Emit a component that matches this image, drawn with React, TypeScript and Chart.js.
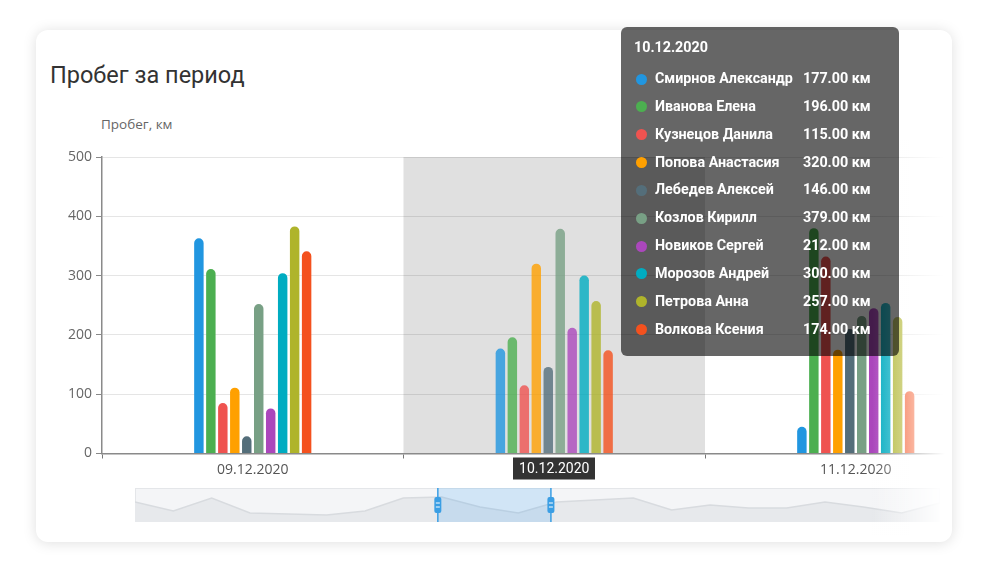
import React, { useEffect, useRef } from "react";
import { Chart, registerables } from "chart.js";

Chart.register(...registerables);

// ---------- data ----------
const categories = ["09.12.2020", "10.12.2020", "11.12.2020"];
const seriesNames = [
  "Смирнов Александр",
  "Иванова Елена",
  "Кузнецов Данила",
  "Попова Анастасия",
  "Лебедев Алексей",
  "Козлов Кирилл",
  "Новиков Сергей",
  "Морозов Андрей",
  "Петрова Анна",
  "Волкова Ксения",
];
const seriesColors = [
  "#2196e0",
  "#4caf50",
  "#ef5350",
  "#ffa000",
  "#546e7a",
  "#78a085",
  "#ab47bc",
  "#00acc1",
  "#afb42b",
  "#f4511e",
];
const smirnov = [363, 177, 45];
const ivanova = [311, 196, 380];
const kuznetsov = [85, 115, 332];
const popova = [111, 320, 175];
const lebedev = [29, 146, 210];
const kozlov = [252, 379, 232];
const novikov = [76, 212, 245];
const morozov = [304, 300, 254];
const petrova = [383, 257, 230];
const volkova = [341, 174, 105];
const seriesValues = [smirnov, ivanova, kuznetsov, popova, lebedev, kozlov, novikov, morozov, petrova, volkova];
const yTicks = [0, 100, 200, 300, 400, 500];
const highlightedCategory = 1;
const unit = "км";
const chartTitle = "Пробег за период";
const axisTitle = "Пробег, км";
const previewValues = [20, 11, 24, 9, 8, 7, 11, 24, 25, 15, 9, 20, 22, 24, 12, 17, 14, 14, 20, 15, 9, 19];
const previewMax = 34;
const previewSelection = [7.9, 10.85];

// ---------- helpers ----------
function withAlpha(hex: string, a: number) {
  const h = hex.replace("#", "");
  const r = parseInt(h.slice(0, 2), 16);
  const g = parseInt(h.slice(2, 4), 16);
  const b = parseInt(h.slice(4, 6), 16);
  return `rgba(${r},${g},${b},${a})`;
}

const TICK_FONT = "'Open Sans', sans-serif";

const highlightPlugin = {
  id: "catHighlight",
  beforeDraw(chart: any) {
    const x = chart.scales.x;
    const { top, bottom } = chart.chartArea;
    const w = x.width / categories.length;
    const c = x.getPixelForValue(highlightedCategory);
    const ctx = chart.ctx;
    ctx.save();
    ctx.fillStyle = "#e0e0e0";
    ctx.fillRect(c - w / 2, top, w, bottom - top);
    ctx.restore();
  },
  afterDraw(chart: any) {
    const x = chart.scales.x;
    const c = x.getPixelForValue(highlightedCategory);
    const ctx = chart.ctx;
    const label = categories[highlightedCategory];
    ctx.save();
    ctx.font = `14px Roboto`;
    const tw = ctx.measureText(label).width;
    const bw = tw + 12;
    const top = chart.chartArea.bottom + 4;
    ctx.fillStyle = "#333333";
    ctx.fillRect(Math.round(c - bw / 2), top, Math.round(bw), 22);
    ctx.fillStyle = "#ffffff";
    ctx.textAlign = "center";
    ctx.textBaseline = "middle";
    ctx.fillText(label, c, top + 11.5);
    ctx.restore();
  },
};

const previewPlugin = {
  id: "previewDecor",
  beforeDraw(chart: any) {
    const ctx = chart.ctx;
    ctx.save();
    ctx.fillStyle = "#f4f5f7";
    ctx.fillRect(0, 0, chart.width, chart.height);
    ctx.strokeStyle = "#e4e6e9";
    ctx.lineWidth = 1;
    ctx.strokeRect(0.5, 0.5, chart.width - 1, chart.height - 1);
    ctx.restore();
  },
  afterDatasetsDraw(chart: any) {
    const ctx = chart.ctx;
    const xs = chart.scales.x;
    const x1 = xs.getPixelForValue(previewSelection[0]);
    const x2 = xs.getPixelForValue(previewSelection[1]);
    const h = chart.height;
    const mid = h / 2;
    ctx.save();
    ctx.fillStyle = "rgba(33,150,243,0.16)";
    ctx.fillRect(x1, 0, x2 - x1, h);
    ctx.strokeStyle = "#3a9ee4";
    ctx.lineWidth = 1.5;
    [x1, x2].forEach((x) => {
      ctx.beginPath();
      ctx.moveTo(x, 0);
      ctx.lineTo(x, h);
      ctx.stroke();
      ctx.fillStyle = "#3a9ee4";
      ctx.beginPath();
      (ctx as any).roundRect(x - 3.5, mid - 8, 7, 16, 2);
      ctx.fill();
      ctx.strokeStyle = "#ffffff";
      ctx.lineWidth = 1;
      ctx.beginPath();
      ctx.moveTo(x - 2, mid - 2);
      ctx.lineTo(x + 2, mid - 2);
      ctx.moveTo(x - 2, mid + 2);
      ctx.lineTo(x + 2, mid + 2);
      ctx.stroke();
      ctx.strokeStyle = "#3a9ee4";
      ctx.lineWidth = 1.5;
    });
    ctx.restore();
  },
};

export default function App() {
  const mainRef = useRef<HTMLCanvasElement | null>(null);
  const previewRef = useRef<HTMLCanvasElement | null>(null);
  const tipRef = useRef<HTMLDivElement | null>(null);

  useEffect(() => {
    if (!mainRef.current || !previewRef.current) return;

    const main = new Chart(mainRef.current, {
      type: "bar",
      data: {
        labels: categories,
        datasets: seriesValues.map((vals, i) => ({
          label: seriesNames[i],
          data: vals,
          backgroundColor: (ctx: any) =>
            ctx.dataIndex === highlightedCategory ? withAlpha(seriesColors[i], 0.8) : seriesColors[i],
          hoverBackgroundColor: (ctx: any) =>
            ctx.dataIndex === highlightedCategory ? withAlpha(seriesColors[i], 0.8) : seriesColors[i],
          borderWidth: 0,
          borderRadius: 5,
          borderSkipped: "bottom",
          categoryPercentage: 0.397,
          barPercentage: 0.79,
        })),
      },
      options: {
        animation: false,
        responsive: false,
        events: [],
        layout: { padding: { left: 0, top: 157, right: 13.5, bottom: 0 } },
        plugins: {
          legend: { display: false },
          title: { display: false },
          tooltip: {
            enabled: false,
            mode: "index",
            intersect: false,
            external: ({ tooltip }: any) => {
              const el = tipRef.current;
              if (!el) return;
              if (!tooltip.opacity || !tooltip.dataPoints || !tooltip.dataPoints.length) {
                el.style.display = "none";
                return;
              }
              el.style.display = "block";
              const title = (tooltip.title && tooltip.title[0]) || "";
              let html = `<div style="height:16px;line-height:16px;margin-bottom:10px">${title}</div>`;
              tooltip.dataPoints.forEach((dp: any) => {
                const color = seriesColors[dp.datasetIndex];
                const v = Number(dp.raw).toFixed(2) + " " + unit;
                html +=
                  `<div style="position:relative;height:27.85px;line-height:27.85px;white-space:nowrap">` +
                  `<span style="position:absolute;left:2px;top:8.5px;width:11px;height:11px;border-radius:50%;background:${color}"></span>` +
                  `<span style="position:absolute;left:21px">${dp.dataset.label}</span>` +
                  `<span style="position:absolute;left:169px">${v}</span></div>`;
              });
              el.innerHTML = html;
            },
          },
        },
        scales: {
          x: {
            grid: {
              display: true,
              drawOnChartArea: false,
              drawTicks: true,
              tickLength: 5,
              tickColor: "#777",
              offset: true,
            },
            border: { display: true, color: "#8a8a8a", width: 1.5 },
            ticks: {
              color: "#555",
              font: { family: TICK_FONT, size: 14 },
              padding: 3,
            },
            afterFit: (scale: any) => {
              scale.height = 540 - 453.5;
            },
          },
          y: {
            min: yTicks[0],
            max: yTicks[yTicks.length - 1],
            grid: {
              color: "rgba(0,0,0,0.1)",
              tickColor: "#888",
              tickLength: 6,
            },
            border: { display: true, color: "#8a8a8a", width: 1.5 },
            ticks: {
              stepSize: yTicks[1] - yTicks[0],
              color: "#666",
              font: { family: TICK_FONT, size: 14 },
              padding: 4,
            },
            afterFit: (scale: any) => {
              scale.width = 102;
            },
          },
        },
      },
      plugins: [highlightPlugin],
    } as any);

    const active = seriesValues.map((_, i) => ({ datasetIndex: i, index: highlightedCategory }));
    main.tooltip?.setActiveElements(active, { x: 0, y: 0 });

    const preview = new Chart(previewRef.current, {
      type: "line",
      data: {
        datasets: [
          {
            data: previewValues.map((v, i) => ({ x: i, y: v })),
            fill: "origin",
            backgroundColor: "#e7e9ec",
            borderColor: "#d8dbdf",
            borderWidth: 1.5,
            pointRadius: 0,
            tension: 0,
          },
        ],
      },
      options: {
        animation: false,
        responsive: false,
        events: [],
        layout: { padding: 0 },
        plugins: { legend: { display: false }, tooltip: { enabled: false } },
        scales: {
          x: { type: "linear", display: false, min: 0, max: previewValues.length - 1 },
          y: { display: false, min: 0, max: previewMax },
        },
      },
      plugins: [previewPlugin],
    } as any);

    return () => {
      main.destroy();
      preview.destroy();
    };
  }, []);

  return (
    <div
      style={{
        position: "fixed",
        left: 0,
        top: 0,
        width: 988,
        height: 588,
        background: "#fff",
        overflow: "hidden",
      }}
    >
      <div
        style={{
          position: "absolute",
          left: 36,
          top: 30,
          width: 916,
          height: 512,
          borderRadius: 12,
          background: "#fff",
          boxShadow: "0 1px 14px rgba(0,0,0,0.13)",
        }}
      />
      <div
        style={{
          position: "absolute",
          left: 50,
          top: 63,
          fontFamily: "Roboto, sans-serif",
          fontSize: 23.5,
          lineHeight: "24px",
          color: "#333",
          whiteSpace: "nowrap",
        }}
      >
        {chartTitle}
      </div>
      <div
        style={{
          position: "absolute",
          left: 101,
          top: 116,
          fontFamily: TICK_FONT,
          fontSize: 13.5,
          lineHeight: "16px",
          color: "#666",
          whiteSpace: "nowrap",
        }}
      >
        {axisTitle}
      </div>
      <div style={{ position: "absolute", left: 0, top: 0, width: 945, height: 540, overflow: "hidden" }}>
        <canvas ref={mainRef} width={1020} height={540} style={{ display: "block", width: 1020, height: 540 }} />
      </div>
      <canvas
        ref={previewRef}
        width={805}
        height={34}
        style={{ position: "absolute", left: 135, top: 488, width: 805, height: 34, display: "block" }}
      />
      <div
        style={{
          position: "absolute",
          left: 872,
          top: 140,
          width: 73,
          height: 395,
          background: "linear-gradient(to right, rgba(255,255,255,0), rgba(255,255,255,1))",
        }}
      />
      <div
        ref={tipRef}
        style={{
          position: "absolute",
          left: 621,
          top: 27,
          width: 278,
          height: 329,
          boxSizing: "border-box",
          padding: "12px 13px",
          borderRadius: 6,
          background: "rgba(0,0,0,0.6)",
          color: "#fff",
          fontFamily: "Roboto, sans-serif",
          fontWeight: 700,
          fontSize: 14.3,
          display: "none",
        }}
      />
    </div>
  );
}
